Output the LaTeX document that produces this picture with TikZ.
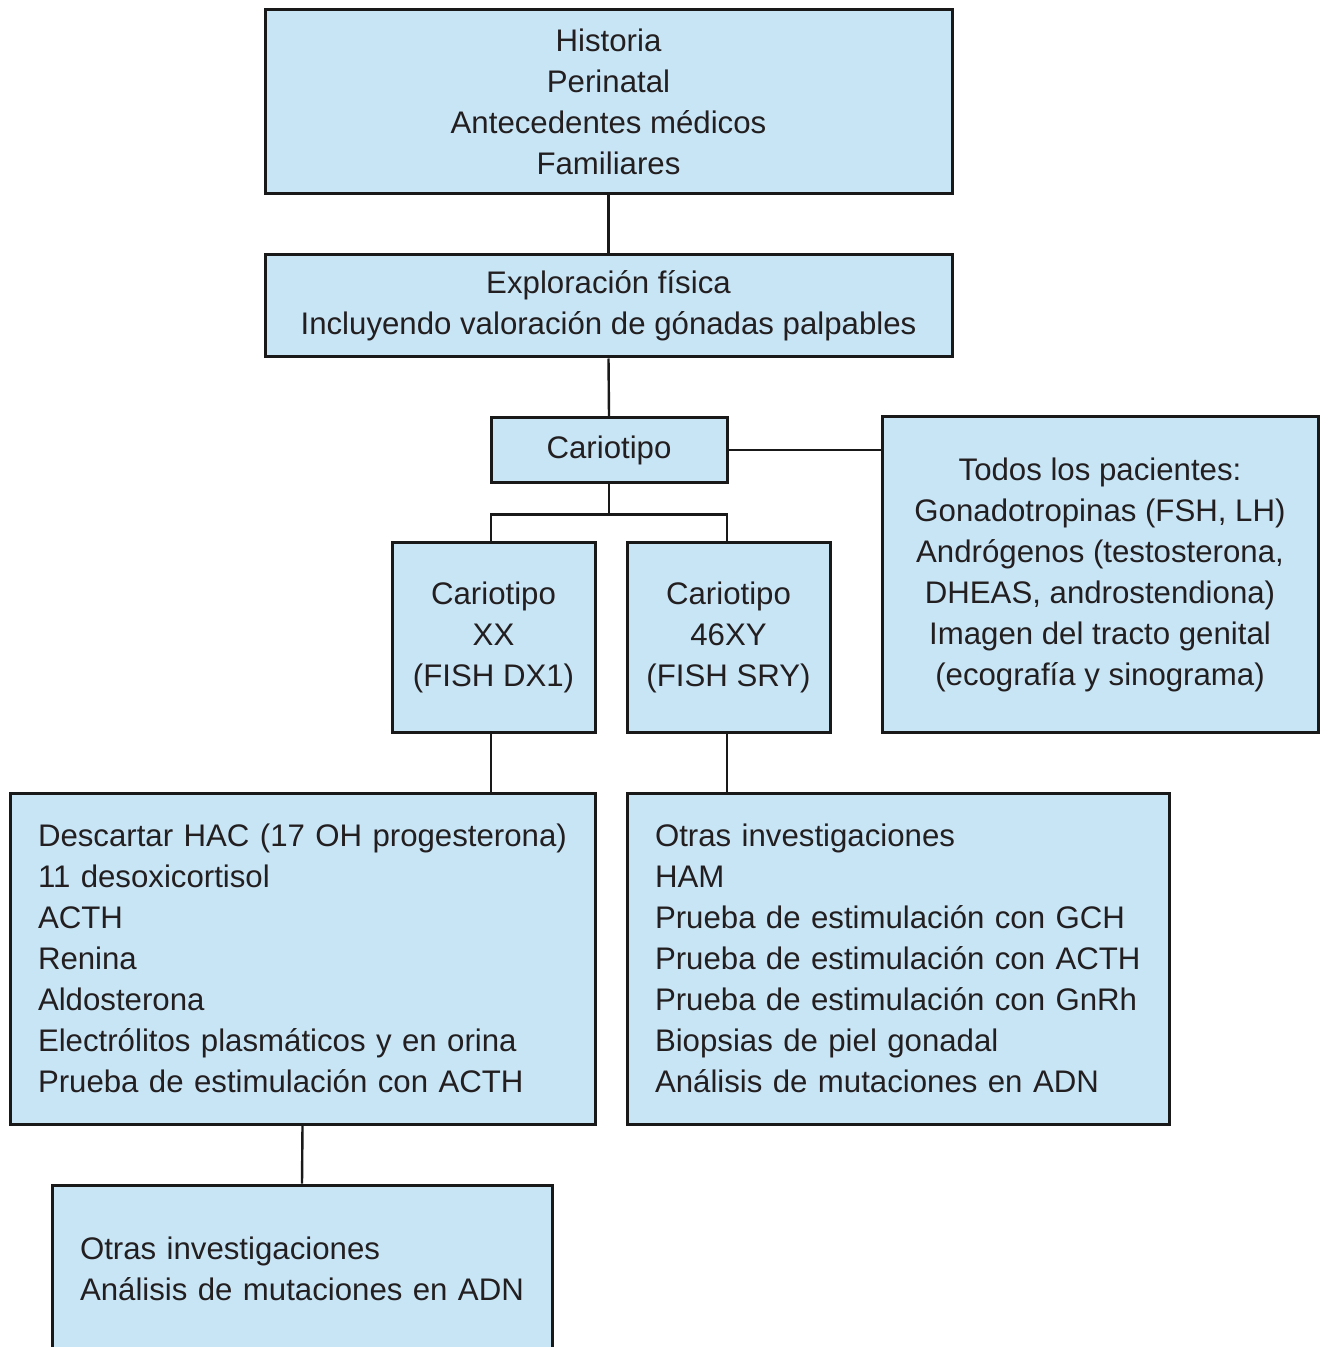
\documentclass[tikz,border=0pt]{standalone}
\usepackage{fontspec}
\setmainfont{Liberation Sans}
\usetikzlibrary{calc}
\definecolor{boxblue}{RGB}{200,229,246}
\definecolor{txt}{RGB}{35,31,32}
\begin{document}
\begin{tikzpicture}[x=0.5pt,y=-0.5pt,
  box/.style={draw=black!90, line width=1.5pt, fill=boxblue, inner sep=0pt,
    font=\fontsize{15.6}{20.5}\selectfont, text=txt, align=center},
  lbox/.style={box, align=left, inner xsep=14pt},
  ln/.style={line width=1.2pt, draw=black!90}]
\useasboundingbox (0,0) rectangle (1327,1347);
\node[box, minimum width=343.5pt, minimum height=92pt] (A) at (608.5,102)
  {Historia\\Perinatal\\Antecedentes médicos\\Familiares};
\node[box, minimum width=343.5pt, minimum height=51pt] (B) at (608.5,306)
  {Exploración física\\Incluyendo valoración de gónadas palpables};
\node[box, minimum width=118pt, minimum height=32pt] (C) at (609,450) {Cariotipo};
\node[box, minimum width=218pt, minimum height=157.5pt] (D) at (1100,574.5)
  {Todos los pacientes:\\Gonadotropinas (FSH, LH)\\Andrógenos (testosterona,\\DHEAS, androstendiona)\\Imagen del tracto genital\\(ecografía y sinograma)};
\node[box, minimum width=101.5pt, minimum height=95pt] (E) at (493.5,637)
  {Cariotipo\\XX\\(FISH DX1)};
\node[box, minimum width=101.5pt, minimum height=95pt] (F) at (728.5,637)
  {Cariotipo\\46XY\\(FISH SRY)};
\node[lbox, text width=264.5pt, minimum height=165.5pt] (G) at (302.5,958.5)
  {Descartar HAC (17 OH progesterona)\\11 desoxicortisol\\ACTH\\Renina\\Aldosterona\\Electrólitos plasmáticos y en orina\\Prueba de estimulación con ACTH};
\node[lbox, text width=243pt, minimum height=165.5pt] (H) at (898,958.5)
  {Otras investigaciones\\HAM\\Prueba de estimulación con GCH\\Prueba de estimulación con ACTH\\Prueba de estimulación con GnRh\\Biopsias de piel gonadal\\Análisis de mutaciones en ADN};
\node[lbox, text width=222pt, minimum height=83.5pt] (I) at (302,1268.5)
  {Otras investigaciones\\Análisis de mutaciones en ADN};
\draw[ln] (A.south) -- (B.north);
\draw[ln] (B.south) -- (C.north);
\draw[ln] (C.east) -- (C.east -| D.west);
\coordinate (fork) at ($(C.south)+(0,31)$);
\coordinate (eIn) at ($(E.north)+(-2.5,0)$);
\coordinate (fIn) at ($(F.north)+(-1.5,0)$);
\draw[ln] (C.south) -- (fork);
\draw[ln] (eIn) |- (fork) -| (fIn);
\draw[ln] (E.south -| eIn) -- (eIn |- G.north);
\draw[ln] (F.south -| fIn) -- (fIn |- H.north);
\draw[ln] (G.south) -- (I.north);
\end{tikzpicture}
\end{document}
